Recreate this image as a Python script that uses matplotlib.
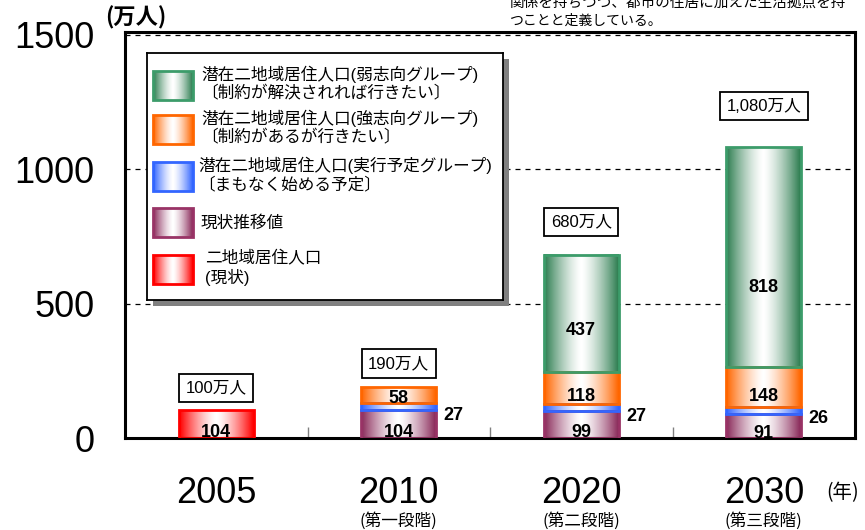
import matplotlib
matplotlib.use('Agg')
import matplotlib.pyplot as plt
import numpy as np
from matplotlib.colors import LinearSegmentedColormap
from matplotlib.patches import Rectangle

plt.rcParams['font.family'] = ['Liberation Sans', 'Noto Sans CJK JP', 'DejaVu Sans']

# data (万人)
years = ['2005', '2010', '2020', '2030']
phases = ['', '(第一段階)', '(第二段階)', '(第三段階)']
current = [104, 0, 0, 0]      # 二地域居住人口(現状)
trend = [0, 104, 99, 91]      # 現状推移値
planned = [0, 27, 27, 26]     # 実行予定グループ
strong = [0, 58, 118, 148]    # 強志向グループ
weak = [0, 0, 437, 818]       # 弱志向グループ
totals = ['100万人', '190万人', '680万人', '1,080万人']

legend_items = [
    ('#3c9c6a', '#2d7d50', ['潜在二地域居住人口(弱志向グループ)', '〔制約が解決されれば行きたい〕']),
    ('#ff6600', '#ff6600', ['潜在二地域居住人口(強志向グループ)', '〔制約があるが行きたい〕']),
    ('#3366ff', '#3366ff', ['潜在二地域居住人口(実行予定グループ)', '〔まもなく始める予定〕']),
    ('#993366', '#8a2a5a', ['現状推移値']),
    ('#ff0000', '#ff0000', ['二地域居住人口', '(現状)']),
]


def gradient(axis, x0, x1, y0, y1, color):
    prof = np.abs(np.linspace(-1, 1, 64)) ** 1.4
    cmap = LinearSegmentedColormap.from_list('g', ['white', color])
    axis.imshow(prof[None, :], extent=[x0, x1, y0, y1], aspect='auto', cmap=cmap,
                vmin=0, vmax=1, interpolation='bilinear', zorder=2)


fig = plt.figure(figsize=(8.65, 5.3), dpi=100)
ax = fig.add_axes([125/865, 1-438/530, 730/865, 406/530])

x = np.arange(len(years))
width = 0.41
series = [(current, '#ff0000', '#ff0000'), (trend, '#993366', '#8a2a5a'),
          (planned, '#3366ff', '#3366ff'), (strong, '#ff6600', '#ff6600'),
          (weak, '#3c9c6a', '#2d7d50')]

bottom = np.zeros(len(years))
for vals, edge, fill in series:
    vals = np.array(vals, dtype=float)
    bars = ax.bar(x, vals, width, bottom=bottom, facecolor='none', edgecolor=edge,
                  linewidth=2, zorder=3)
    for b, v in zip(bars, vals):
        b.set_visible(v > 0)
        if v > 0:
            gradient(ax, b.get_x(), b.get_x() + b.get_width(),
                     b.get_y(), b.get_y() + b.get_height(), fill)
    bottom += vals

lab = dict(fontsize=13, weight='bold', ha='center', va='center', zorder=6)
for i in range(len(years)):
    base = current[i] + trend[i]
    ax.text(x[i], base * 0.2, str(base), **lab)
    if planned[i]:
        ax.text(x[i] + width/2 + 0.04, base - 20, str(planned[i]),
                fontsize=13, weight='bold', ha='left', va='center')
    if strong[i]:
        b0 = base + planned[i]
        ax.text(x[i], b0 + strong[i] * 0.25, str(strong[i]), **lab)
    if weak[i]:
        b0 = base + planned[i] + strong[i]
        ax.text(x[i], b0 + weak[i] * 0.36, str(weak[i]), **lab)
    ax.text(x[i], bottom[i] * 1.07 + 75, totals[i], fontsize=12, ha='center', va='center',
            bbox=dict(boxstyle='square,pad=0.4', facecolor='white', edgecolor='black', linewidth=1.3))
    ax.annotate(years[i], (x[i], 0), xycoords=('data', 'axes fraction'), xytext=(0, -40),
                textcoords='offset points', ha='center', va='center', fontsize=26,
                annotation_clip=False)
    if phases[i]:
        ax.annotate(phases[i], (x[i], 0), xycoords=('data', 'axes fraction'), xytext=(0, -60),
                    textcoords='offset points', ha='center', va='center', fontsize=12,
                    family=['Noto Sans CJK JP'], annotation_clip=False)

ax.set_xlim(-0.5, 3.5)
ax.set_ylim(0, 1510)
ax.set_xticks([])
ax.set_xticks([0.5, 1.5, 2.5], minor=True)
ax.tick_params(axis='x', which='minor', direction='in', length=8, color='#808080', width=1)
ax.set_yticks([0, 500, 1000, 1500])
ax.tick_params(axis='y', length=0, pad=22, labelsize=26)
ax.set_axisbelow(True)
ax.grid(axis='y', color='black', linestyle=(0, (4, 4)), linewidth=0.9)
for s in ax.spines.values():
    s.set_linewidth(2.2)
    s.set_color('black')

fig.text(136/865, 1-18/530, '(万人)', fontsize=16, weight='bold', ha='center', va='center',
         family=['Noto Sans CJK JP'])
fig.text(843/865, 1-493/530, '(年)', fontsize=14, ha='center', va='center',
         family=['Noto Sans CJK JP'])
fig.text(510/865, 1-3/530, '関係を持ちつつ、都市の住居に加えた生活拠点を持', fontsize=10.5,
         ha='left', va='center', family=['Noto Sans CJK JP'])
fig.text(510/865, 1-21/530, 'つことと定義している。', fontsize=10,
         ha='left', va='center', family=['Noto Sans CJK JP'])

# legend box with shadow
lx, ly, lw_, lh = 147, 53, 356, 247
fig.add_artist(Rectangle(((lx + 6)/865, 1-(ly + lh + 6)/530), lw_/865, lh/530,
                         transform=fig.transFigure, facecolor='#808080', edgecolor='none', zorder=1))
lax = fig.add_axes([lx/865, 1-(ly + lh)/530, lw_/865, lh/530], zorder=2)
lax.set_facecolor('white')
lax.set_xticks([])
lax.set_yticks([])
for s in lax.spines.values():
    s.set_linewidth(1.3)

patch_tops = [18, 62, 109, 155, 202]
text_x = [54, 54, 51, 54, 58]
for (edge, fill, lines), top, tx in zip(legend_items, patch_tops, text_x):
    gradient(lax, 6, 46, top + 29, top, fill)
    lax.add_patch(Rectangle((6, top), 40, 29, facecolor='none', edgecolor=edge, linewidth=2, zorder=3))
    if len(lines) == 1:
        lax.text(tx, top + 15, lines[0], fontsize=12, va='center', ha='left')
    else:
        for k, line in enumerate(lines):
            lax.text(tx, top + 3 + 19*k, line, fontsize=12, va='center', ha='left')
lax.set_xlim(0, lw_)
lax.set_ylim(lh, 0)

fig.savefig('out.png', dpi=100)
